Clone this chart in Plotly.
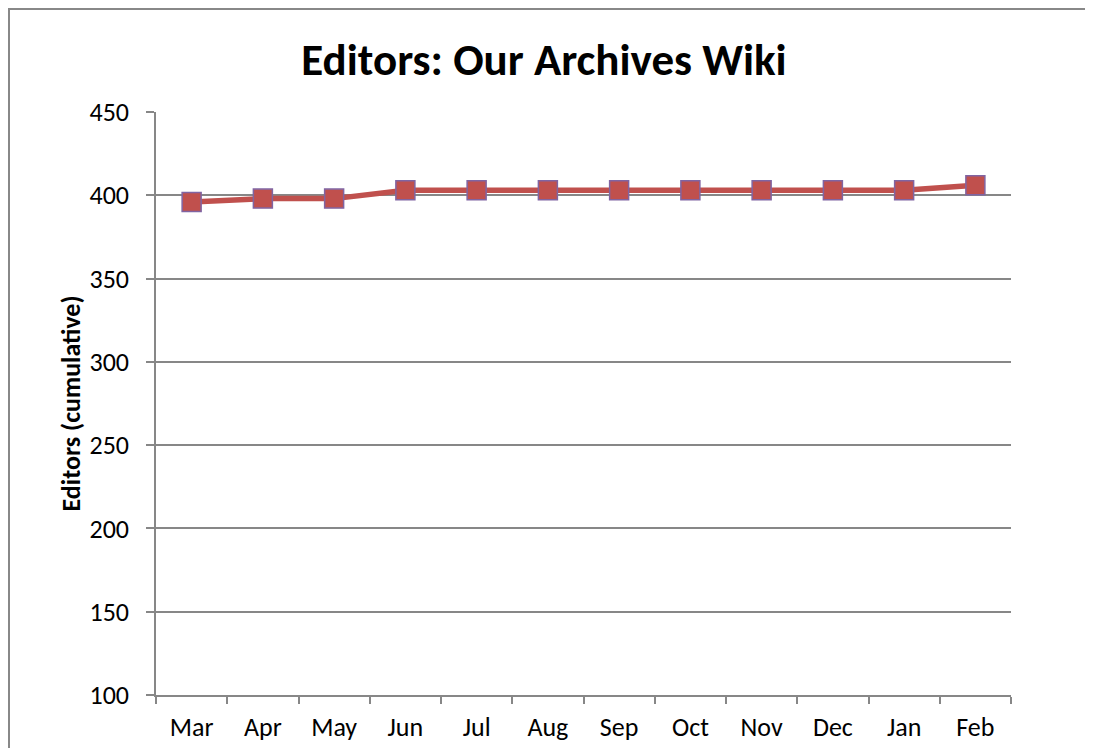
import plotly.graph_objects as go

months = ["Mar", "Apr", "May", "Jun", "Jul", "Aug", "Sep", "Oct", "Nov", "Dec", "Jan", "Feb"]
editors = [396, 398, 398, 403, 403, 403, 403, 403, 403, 403, 403, 406]
y_ticks = [100, 150, 200, 250, 300, 350, 400, 450]

FONT = "Carlito, Lato, sans-serif"
GRID = "#878787"

fig = go.Figure()
fig.add_trace(go.Scatter(
    x=months, y=editors, mode="lines+markers",
    line=dict(color="#C0504D", width=5.5),
    marker=dict(symbol="square", size=19, color="#C0504D",
                line=dict(color="#8064A2", width=1.5)),
    showlegend=False, hoverinfo="x+y",
))

# page has an 8px body margin, so figure coords = screenshot coords - 8
OFF = 8
L, R, T, B = 156 - OFF, 1011 - OFF, 112 - OFF, 695 - OFF
W, H = 1093, 748
pw, ph = R - L, B - T

fig.update_layout(
    width=W, height=H,
    margin=dict(l=L, r=W - R, t=T, b=H - B, pad=0),
    paper_bgcolor="white", plot_bgcolor="white",
    font=dict(family=FONT, color="#000000"),
    title=dict(text="<b>Editors: Our Archives Wiki</b>",
               font=dict(family=FONT, size=45, color="#000000"),
               x=(544 - OFF) / W, xanchor="center",
               y=1 - (59 - OFF) / H, yanchor="middle"),
    xaxis=dict(type="category", range=[-0.5, 11.5],
               showgrid=False, showline=True, linecolor=GRID, linewidth=1.5,
               ticks="outside", tickson="boundaries", ticklen=7,
               tickcolor=GRID, tickwidth=1.5, ticklabelstandoff=8,
               tickfont=dict(family=FONT, size=26, color="#000000"),
               zeroline=False, fixedrange=True),
    yaxis=dict(range=[100, 450], tickvals=y_ticks,
               showgrid=True, gridcolor=GRID, gridwidth=1.5,
               showline=True, linecolor=GRID, linewidth=1.5,
               ticks="outside", ticklen=8, tickcolor=GRID, tickwidth=1.5,
               ticklabelstandoff=12,
               tickfont=dict(family=FONT, size=26, color="#000000"),
               zeroline=False, fixedrange=True),
)

fig.add_annotation(
    text="<b>Editors (cumulative)</b>", textangle=-90,
    xref="paper", yref="paper",
    x=(70 - 156) / pw, y=0.5, xanchor="center", yanchor="middle",
    showarrow=False, font=dict(family=FONT, size=26, color="#000000"),
)

# outer chart border
fig.add_shape(
    type="rect", xref="paper", yref="paper",
    x0=(1 - L) / pw, x1=(1200 - L) / pw,
    y0=(B - 900) / ph, y1=(B - 1) / ph,
    line=dict(color="#888888", width=2), fillcolor="rgba(0,0,0,0)",
    layer="below",
)

fig.write_html("out.html")
